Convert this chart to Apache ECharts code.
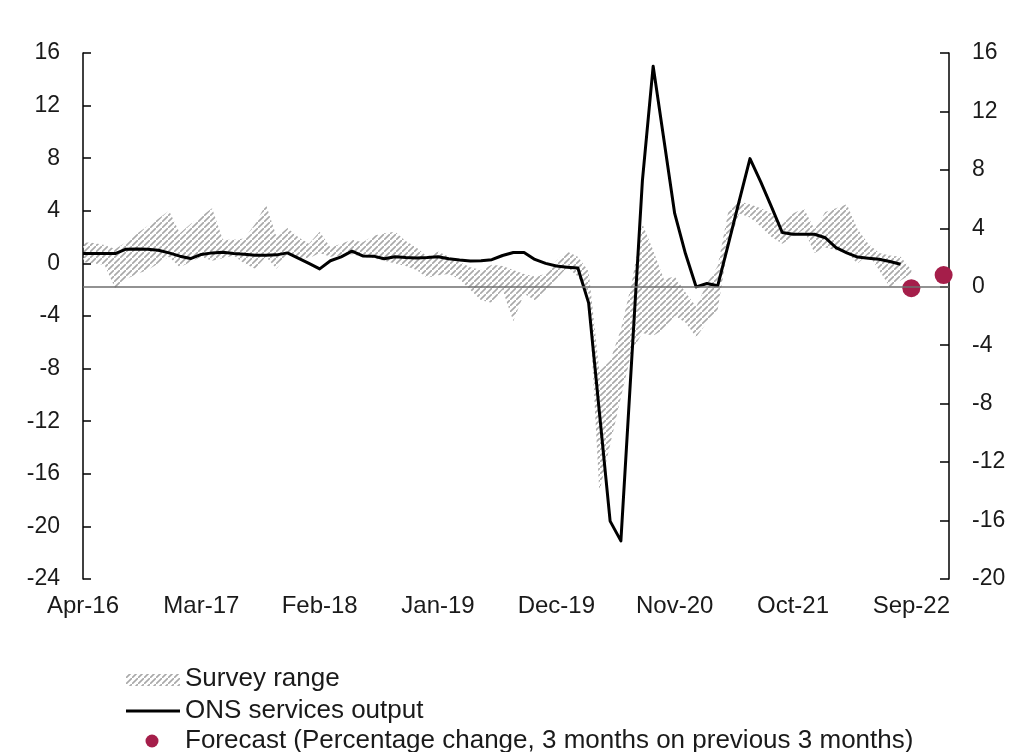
<!DOCTYPE html>
<html><head><meta charset="utf-8">
<script src="https://cdn.jsdelivr.net/npm/echarts@6/dist/echarts.min.js"></script>
<style>html,body{margin:0;padding:0;background:#fff}#c{width:1015px;height:752px}</style>
</head><body><div id="c"></div>
<script>
// Month index 0 = Apr-16; tick labels every 11 months
const tickLabels = ['Apr-16','Mar-17','Feb-18','Jan-19','Dec-19','Nov-20','Oct-21','Sep-22'];
const tickStep = 11;

// Survey range (upper / lower), left-axis units, Apr-16 .. Sep-22
const surveyUpper = [1.6,1.55,1.4,1.1,1.6,2.25,2.85,3.4,4.0,2.3, 3.0,3.6,4.2,1.8,1.8,1.9,3.0,4.5,2.0,2.7, 2.0,1.5,2.4,1.2,1.5,1.8,1.6,2.1,2.3,2.4, 1.7,1.2,0.5,0.9,0.5,0.1,-0.3,-0.5,-0.1,-0.2, -0.5,-0.8,-1.0,-0.8,0.2,0.9,0.5,-0.6,-8.2,-7.4, -5.0,-1.5,3.0,1.0,-1.2,-1.0,-2.2,-3.3,-1.5,-0.2, 4.0,4.7,4.5,4.2,3.8,3.0,3.8,4.2,2.6,3.9, 4.2,4.5,2.6,1.5,0.8,0.6,0.5,-0.5];
const surveyLower = [0.1,0.0,-0.1,-1.9,-1.2,-0.8,-0.5,0.0,0.5,-0.3, 0.1,0.5,0.2,0.4,0.6,0.0,-0.4,0.5,-0.4,0.7, 0.4,0.4,0.8,0.5,0.6,0.7,0.5,0.4,0.2,0.0, -0.2,-0.5,-1.1,-0.9,-0.8,-1.2,-2.0,-2.8,-3.0,-2.0, -4.4,-2.3,-2.8,-2.2,-1.2,-0.3,-1.0,-2.3,-17.4,-13.8, -10.2,-6.7,-5.3,-5.5,-5.0,-4.0,-4.5,-5.6,-4.5,-3.5, 1.5,3.8,3.5,2.8,2.0,1.5,2.0,2.6,0.8,1.2, 1.0,0.8,0.0,0.7,-0.5,-1.8,-1.3,-0.8];

// ONS services output (left axis), Apr-16 .. Aug-22
const onsOutput = [0.75,0.75,0.75,0.75,1.08,1.1,1.08,1.0,0.8,0.55, 0.37,0.68,0.8,0.85,0.75,0.7,0.62,0.62,0.65,0.8, 0.4,0.0,-0.42,0.2,0.5,0.93,0.57,0.55,0.35,0.5, 0.45,0.42,0.45,0.5,0.35,0.25,0.19,0.2,0.28,0.6, 0.83,0.83,0.3,0.0,-0.2,-0.3,-0.35,-3.0,-11.3,-19.6, -21.1,-7.4,6.3,15.0,9.4,3.8,0.75,-1.79,-1.53,-1.7, 1.5,4.75,7.97,6.2,4.3,2.35,2.22,2.22,2.22,1.95, 1.2,0.8,0.48,0.4,0.32,0.15,-0.06];

// Forecast (right axis): Sep-22 and Dec-22
const forecastMonths = [77, 80];
const forecastValues = [-0.1, 0.8];

const legendNames = ['Survey range', 'ONS services output', 'Forecast (Percentage change, 3 months on previous 3 months)'];

const FONT = '"Liberation Sans", Arial, Helvetica, sans-serif';
const TXT = '#1a1a1a';
const RED = '#a51e4a';

function hatchCanvas() {
  const s = 6;
  const c = document.createElement('canvas');
  c.width = s; c.height = s;
  const g = c.getContext('2d');
  g.strokeStyle = '#a9a9a9';
  g.lineWidth = 1.6;
  g.beginPath();
  g.moveTo(-1, s + 1); g.lineTo(s + 1, -1);
  g.moveTo(-s - 1, 1); g.lineTo(1, -s - 1);
  g.moveTo(s - 1, 2 * s + 1); g.lineTo(2 * s + 1, s - 1);
  g.stroke();
  return c;
}
const hatch = { image: hatchCanvas(), repeat: 'repeat' };

const bandData = surveyUpper.map((v, i) => [i, v, surveyLower[i]]);
const onsData = onsOutput.map((v, i) => [i, v]);
const fcData = forecastMonths.map((m, i) => [m, forecastValues[i]]);

const chart = echarts.init(document.getElementById('c'), null, { renderer: 'canvas' });
const lgText = (y, t) => ({ type: 'text', x: 185, y: y, silent: true,
  style: { text: t, fontSize: 26, fontFamily: FONT, fill: TXT, verticalAlign: 'middle', align: 'left' } });

chart.setOption({
  animation: false,
  backgroundColor: '#fff',
  textStyle: { fontFamily: FONT },
  grid: { left: 83, right: 66, top: 53, bottom: 173, containLabel: false },
  xAxis: {
    type: 'value', min: 0, max: 80.5, interval: tickStep,
    axisLine: { show: false }, axisTick: { show: false }, splitLine: { show: false },
    axisLabel: {
      margin: 15, fontSize: 24, color: TXT, fontFamily: FONT,
      showMaxLabel: false,
      formatter: v => (v % tickStep === 0 && v / tickStep < tickLabels.length) ? tickLabels[v / tickStep] : ''
    }
  },
  yAxis: [
    { type: 'value', position: 'left', min: -24, max: 16, interval: 4,
      axisLine: { show: true, lineStyle: { color: '#000', width: 1.5 } },
      axisTick: { show: true, inside: true, length: 8, lineStyle: { color: '#000', width: 1.5 } },
      splitLine: { show: false },
      axisLabel: { margin: 23, fontSize: 23, color: TXT, fontFamily: FONT } },
    { type: 'value', position: 'right', min: -20, max: 16, interval: 4,
      axisLine: { show: true, lineStyle: { color: '#000', width: 1.5 } },
      axisTick: { show: true, inside: true, length: 9, lineStyle: { color: '#000', width: 1.5 } },
      splitLine: { show: false },
      axisLabel: { margin: 23, fontSize: 23, color: TXT, fontFamily: FONT } }
  ],
  graphic: [
    { type: 'rect', silent: true, shape: { x: 126, y: 674, width: 54, height: 12 }, style: { fill: hatch } },
    lgText(679, legendNames[0]),
    { type: 'line', silent: true, shape: { x1: 126, y1: 711, x2: 180, y2: 711 }, style: { stroke: '#000', lineWidth: 3 } },
    lgText(711, legendNames[1]),
    { type: 'circle', silent: true, shape: { cx: 152, cy: 741, r: 6.5 }, style: { fill: RED } },
    lgText(741, legendNames[2])
  ],
  series: [
    { name: legendNames[0], type: 'custom', data: bandData, encode: { x: 0, y: [1, 2] }, z: 1, silent: true,
      renderItem: (params, api) => {
        if (params.dataIndex !== 0) return null;
        const top = surveyUpper.map((v, i) => api.coord([i, v]));
        const bot = surveyLower.map((v, i) => api.coord([i, v])).reverse();
        return { type: 'polygon', shape: { points: top.concat(bot) }, style: { fill: hatch, stroke: null } };
      } },
    { name: legendNames[1], type: 'line', data: onsData, symbol: 'none',
      lineStyle: { color: '#000', width: 3, join: 'round' }, itemStyle: { color: '#000' }, z: 3 },
    { name: legendNames[2], type: 'scatter', yAxisIndex: 1,
      data: fcData, symbolSize: 18, itemStyle: { color: RED, opacity: 1 }, z: 4,
      markLine: { silent: true, symbol: 'none', label: { show: false },
        lineStyle: { color: '#6e6e6e', width: 1.5, type: 'solid' },
        data: [{ yAxis: 0 }] } }
  ]
});
</script></body></html>
